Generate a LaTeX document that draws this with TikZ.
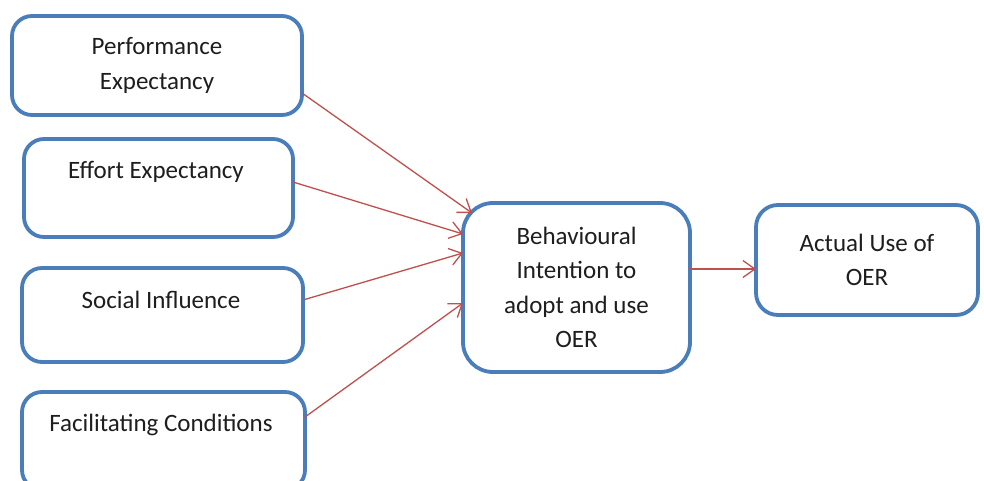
\documentclass[tikz,border=0pt]{standalone}
\usepackage{fontspec}
\setmainfont{Carlito}
\usetikzlibrary{arrows.meta}
\definecolor{boxblue}{RGB}{74,126,187}
\definecolor{arrowred}{RGB}{192,80,77}
\definecolor{txt}{RGB}{30,30,30}
\begin{document}
\begin{tikzpicture}[x=1pt,y=-1pt,
  box/.style={draw=boxblue, line width=3.8pt, rounded corners=20pt, fill=white,
    inner sep=0pt, outer sep=0pt, text=txt, align=center,
    font=\fontsize{25}{34.5}\selectfont},
  lbl/.style={inner sep=0pt, text=txt, align=center, font=\fontsize{25}{34.5}\selectfont},
  conn/.style={draw=arrowred, line width=1.3pt, -{Straight Barb[length=12pt,width=17pt,line width=1.3pt]}}
]
\useasboundingbox (0,0) rectangle (984,481);
\fill[white] (0,0) rectangle (984,481);
\node[box, minimum width=290pt, minimum height=99pt] (pe) at (157,65.5) {Performance\\Expectancy};
\node[box, minimum width=269pt, minimum height=98pt] (ee) at (158.5,188) {};
\node[lbl] (eet) at (156,172) {Effort Expectancy};
\node[box, minimum width=281pt, minimum height=94pt] (si) at (162.5,315) {};
\node[lbl] (sit) at (161,300) {Social Influence};
\node[box, minimum width=283pt, minimum height=98pt] (fc) at (163.5,441) {};
\node[lbl] (fct) at (161,425) {Facilitating Conditions};
\node[box, rounded corners=30pt, minimum width=227pt, minimum height=169pt] (bi) at (576.5,287.5) {Behavioural\\Intention to\\adopt and use\\OER};
\node[box, rounded corners=22pt, minimum width=222pt, minimum height=110pt] (au) at (867,260) {Actual Use of\\OER};
\draw[conn] ([yshift=-27.5pt]pe.east) -- ([xshift=9pt,yshift=-10pt]bi.north west);
\draw[conn] ([yshift=6pt]ee.east) -- ([yshift=-31pt]bi.north west);
\draw[conn] ([yshift=15pt]si.east) -- ([yshift=-50pt]bi.north west);
\draw[conn] ([yshift=24pt]fc.east) -- ([yshift=-100pt]bi.north west);
\draw[conn] ([yshift=18.5pt]bi.east) -- ([yshift=-9pt]au.west);
\end{tikzpicture}
\end{document}
